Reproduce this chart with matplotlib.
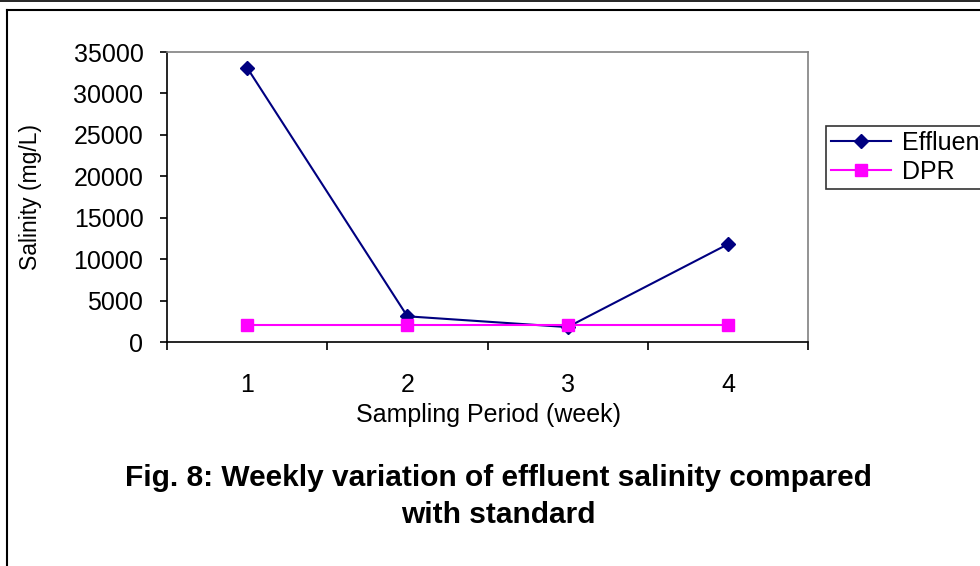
import matplotlib
matplotlib.use("Agg")
import matplotlib.pyplot as plt
from matplotlib.lines import Line2D

weeks = [1, 2, 3, 4]
effluent = [33100, 3100, 1800, 11800]
dpr = [2000, 2000, 2000, 2000]
yticks = [0, 5000, 10000, 15000, 20000, 25000, 30000, 35000]

plt.rcParams['font.family'] = ['Liberation Sans', 'DejaVu Sans']

W, H = 980, 566
fig = plt.figure(figsize=(W/100, H/100), dpi=100)

# outer frame
fig.add_artist(Line2D([0, 1], [1 - 1/H, 1 - 1/H], transform=fig.transFigure, color='black', lw=1.2))
fig.add_artist(Line2D([7/W, 7/W], [0, 1 - 10/H], transform=fig.transFigure, color='black', lw=1.5))
fig.add_artist(Line2D([7/W, 1], [1 - 10/H, 1 - 10/H], transform=fig.transFigure, color='black', lw=1.5))

ax = fig.add_axes([167/W, 1 - 342/H, (808 - 167)/W, (342 - 52)/H])
ax.plot(weeks, effluent, color='#000080', marker='D', markersize=7.5, lw=1.5, label='Effluent')
ax.plot(weeks, dpr, color='#FF00FF', marker='s', markersize=8, lw=1.5, label='DPR')

ax.set_xlim(0.5, 4.5)
ax.set_ylim(0, 35000)
ax.set_yticks(yticks)
ax.set_yticklabels([str(v) for v in yticks])
ax.set_xticks([0.5, 1.5, 2.5, 3.5, 4.5])
ax.set_xticklabels([])
ax.set_xticks(weeks, minor=True)
ax.set_xticklabels([str(w) for w in weeks], minor=True)
ax.tick_params(axis='x', which='minor', length=0, pad=22, labelsize=18)
ax.tick_params(axis='x', which='major', length=6, width=1.2, direction='out')
ax.tick_params(axis='y', length=5, width=1.2, direction='out', labelsize=18, pad=12)

for s in ['left', 'bottom']:
    ax.spines[s].set_color('black')
    ax.spines[s].set_linewidth(1.2)
for s in ['top', 'right']:
    ax.spines[s].set_color('#808080')
    ax.spines[s].set_linewidth(1.2)

fig.text(488/W, 1 - 415/H, 'Sampling Period (week)', ha='center', va='center', fontsize=18)
fig.text(30/W, 1 - 197/H, 'Salinity (mg/L)', ha='center', va='center', fontsize=16.5, rotation=90)

leg = ax.legend(loc='upper left', bbox_to_anchor=((826 - 167)/(808 - 167), (342 - 126)/(342 - 52)),
                frameon=True, fancybox=False, edgecolor='black', fontsize=18,
                handlelength=2.4, borderpad=0.2, labelspacing=0.2, handletextpad=0.45, borderaxespad=0)
leg.get_frame().set_linewidth(1.2)

fig.text(498/W, 1 - 478/H, 'Fig. 8: Weekly variation of effluent salinity compared',
         ha='center', va='center', fontsize=21.5, fontweight='bold')
fig.text(498/W, 1 - 515/H, 'with standard',
         ha='center', va='center', fontsize=21.5, fontweight='bold')

fig.savefig('out.png', dpi=100)
